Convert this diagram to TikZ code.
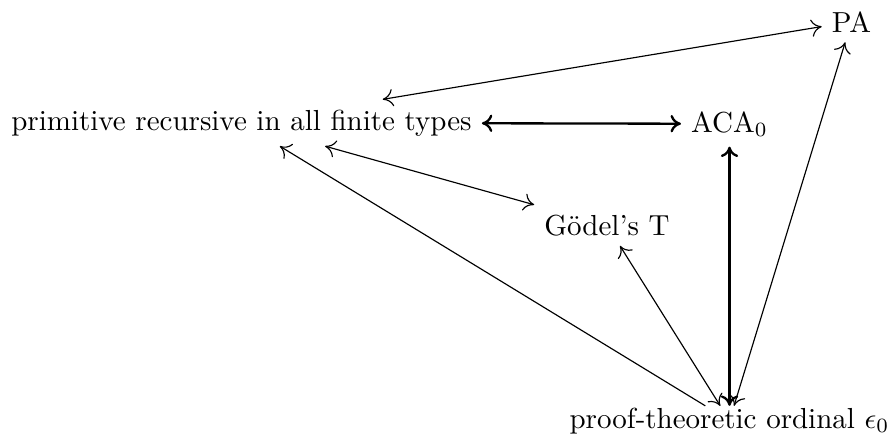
\documentclass[tikz,border=0pt]{standalone}
\usepackage{amsmath}
\usetikzlibrary{arrows.meta,positioning}

\begin{document}
\begin{tikzpicture}[
    x=0.345pt, y=-0.345pt,
    >={To[length=3.6pt, width=6pt]},
    term/.style={anchor=base, inner sep=3.33pt},
    link/.style={<->, draw=black},
    oneway/.style={->, draw=black},
    strong/.style={<->, thick, draw=black},
]

\useasboundingbox (0,0) rectangle (892,441);

% Systems
\node[term] (pa) at (851.5, 32) {PA};
\node[term] (prim) at (241.5, 130) {primitive recursive in all finite types};
\node[term] (aca) at (729.5, 132) {ACA$_0$};
\node[term] (godel) at (607, 235) {G\"odel's T};

% Ordinal
\node[term, inner ysep=0.4pt] (eps) at (729.5, 428) {proof-theoretic ordinal $\epsilon_0$};

% Equivalences
\draw[link] (prim) -- (pa);
\draw[strong] (prim) -- (aca);
\draw[link] (prim) -- (godel);
\draw[strong] (aca) -- (aca |- eps.north);
\draw[link] (godel) -- (eps);
\draw[link] (pa) -- (eps);
\draw[oneway] (eps) -- (prim);

\end{tikzpicture}
\end{document}
